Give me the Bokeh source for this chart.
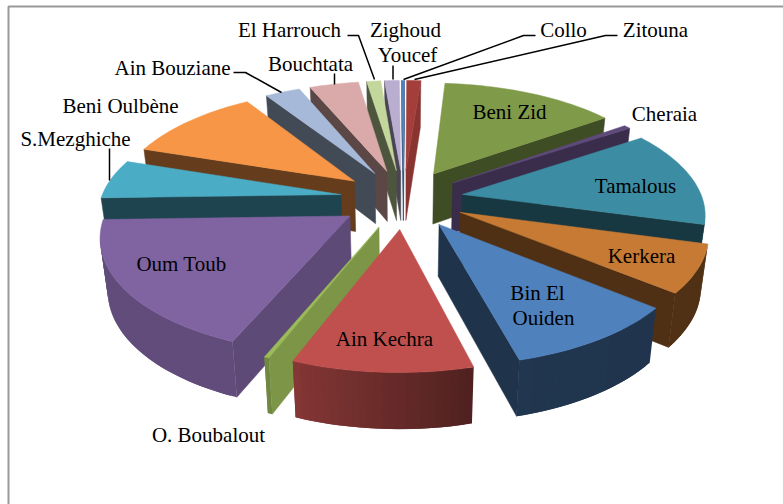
import math
import numpy as np
from bokeh.plotting import figure
from bokeh.models import Range1d
from bokeh.core.properties import value
from bokeh.embed import file_html
from bokeh.resources import INLINE

# ---- data (share of the pie, total 360) ----
communes = ["Bin El Ouiden", "Ain Kechra", "O. Boubalout", "Oum Toub", "S.Mezghiche",
            "Beni Oulbène", "Ain Bouziane", "Bouchtata", "El Harrouch", "Zighoud Youcef",
            "Zitouna", "Collo", "Beni Zid", "Cheraia", "Tamalous", "Kerkera"]
shares = [36, 36, 1, 66, 20, 39, 10, 14, 4, 4.2, 0.8, 4, 50, 2, 49, 24]

# ---- styles ----
face_colors = ["#4F81BD", "#C0504D", "#9BBB59", "#8064A2", "#4BACC6", "#F79646",
               "#A7B9D8", "#D9AAA9", "#C3D69B", "#B9AED0", "#4F81BD", "#A33E3B",
               "#7F9A48", "#5E4A7A", "#3C8DA3", "#C77A34"]
cut_shade = [0.40, 0.40, 0.80, 0.74, 0.40, 0.41, 0.40, 0.42, 0.40, 0.40, 0.6, 0.85, 0.50, 0.62, 0.40, 0.40]
explode = [0.265, 0.265, 0.265, 0.265, 0.265, 0.265, 0.265, 0.265, 0.265, 0.265,
           0.265, 0.265, 0.265, 0.255, 0.25, 0.26]

# ---- layout / projection of the pie ----
FIRST_ANGLE = 129.3
CX, CY, FX, FY, PERSP = 403.0, 198.3, 240.0, 111.3, 0.15
DEPTH, SHRINK = 51.0, 0.025
RIM_ANGLES = [0, 105, 166, 200, 203, 360]
RIM_SHADES = [0.40, 0.40, 0.42, 0.68, 0.76, 0.76]

FONT = "Liberation Serif"
FONT_SIZE = "21px"
W, H = 783, 504


def top(x, y):
    w = 1 - PERSP * y
    return CX + FX * x / w, CY + FY * y / w


def bottom(x, y):
    w = 1 - PERSP * y
    return CX + FX * x / w * (1 - SHRINK), CY + FY * y / w + DEPTH / math.sqrt(w)


def hex_shade(color, k):
    r, g, b = (int(color[i:i + 2], 16) for i in (1, 3, 5))
    return "#%02x%02x%02x" % (int(r * k), int(g * k), int(b * k))


def cross(a, b, c):
    return (b[0] - a[0]) * (c[1] - a[1]) - (b[1] - a[1]) * (c[0] - a[0])


def visible_wall(a, b, inner):
    down = (a[0], a[1] + 1)
    return cross(a, b, inner) * cross(a, b, down) < 0


p = figure(width=W, height=H, output_backend="svg", toolbar_location=None,
           x_range=Range1d(0, W), y_range=Range1d(H, 0),
           min_border=0, outline_line_color=None, background_fill_color="white")
p.xaxis.visible = False
p.yaxis.visible = False
p.grid.visible = False

total = sum(shares)
starts = FIRST_ANGLE + np.concatenate([[0], np.cumsum(shares)[:-1]]) * 360.0 / total
sweeps = np.array(shares) * 360.0 / total


def tip_of(i):
    mid = math.radians(starts[i] + sweeps[i] / 2)
    return explode[i] * math.sin(mid), -explode[i] * math.cos(mid)


order = sorted(range(len(shares)), key=lambda i: tip_of(i)[1])
for i in order:
    color = face_colors[i]
    tx, ty = tip_of(i)
    n = max(2, int(sweeps[i] / 1.5))
    angs = np.linspace(starts[i], starts[i] + sweeps[i], n + 1)
    rx = tx + np.sin(np.radians(angs))
    ry = ty - np.cos(np.radians(angs))
    T = top(tx, ty)
    Tb = bottom(tx, ty)
    P = [top(a, b) for a, b in zip(rx, ry)]
    Pb = [bottom(a, b) for a, b in zip(rx, ry)]
    cut = hex_shade(color, cut_shade[i])
    # straight cut walls
    for A, Ab, inner in ((P[0], Pb[0], P[-1]), (P[-1], Pb[-1], P[0])):
        if visible_wall(T, A, inner):
            p.patch([T[0], A[0], Ab[0], Tb[0]], [T[1], A[1], Ab[1], Tb[1]],
                    fill_color=cut, line_color=cut, line_width=0.5)
    # curved outer wall: overlapping quads so that no seams show
    for j in range(n):
        if visible_wall(P[j], P[j + 1], T):
            e = min(j + 2, n)
            k = float(np.interp((angs[j] + angs[j + 1]) / 2 % 360, RIM_ANGLES, RIM_SHADES))
            c = hex_shade(color, k)
            p.patch([P[j][0], P[e][0], Pb[e][0], Pb[j][0]],
                    [P[j][1], P[e][1], Pb[e][1], Pb[j][1]],
                    fill_color=c, line_color=None)
    p.patch([T[0]] + [q[0] for q in P], [T[1]] + [q[1] for q in P],
            fill_color=color, line_color=color, line_width=0.5)

# frame: only the top and left rules of the page
p.line([W, 8, 8], [6, 6, H], line_color="#999999", line_width=2)

# leader lines
leaders = [
    ([347, 358, 374], [35, 35, 79]),
    ([392.5, 392.5], [65, 79]),
    ([535, 523, 403], [35, 35, 79]),
    ([617, 605, 414], [35, 35, 79]),
    ([233, 245, 281], [72, 72, 92]),
    ([334, 334], [73, 84]),
    ([109, 109], [148, 180]),
]
for lx, ly in leaders:
    p.line(lx, ly, line_color="black", line_width=1.5)

# labels: text, centre x, centre y
labels = [
    ("Zitouna", 655, 29), ("Collo", 563, 29), ("Zighoud", 405, 29), ("Youcef", 407, 54),
    ("El Harrouch", 289, 29), ("Bouchtata", 310, 63), ("Ain Bouziane", 172, 67),
    ("Beni Oulbène", 120, 105), ("S.Mezghiche", 75, 138), ("Beni Zid", 509, 111),
    ("Cheraia", 664, 113), ("Tamalous", 635, 185), ("Kerkera", 641, 255),
    ("Bin El", 537, 292), ("Ouiden", 543, 317), ("Ain Kechra", 384, 338),
    ("Oum Toub", 181, 263), ("O. Boubalout", 208, 434),
]
p.text([l[1] for l in labels], [l[2] for l in labels], text=[l[0] for l in labels],
       text_font=value(FONT), text_font_size=value(FONT_SIZE), text_color="black",
       text_align="center", text_baseline="middle")

open("out.html", "w").write(file_html(p, INLINE))
